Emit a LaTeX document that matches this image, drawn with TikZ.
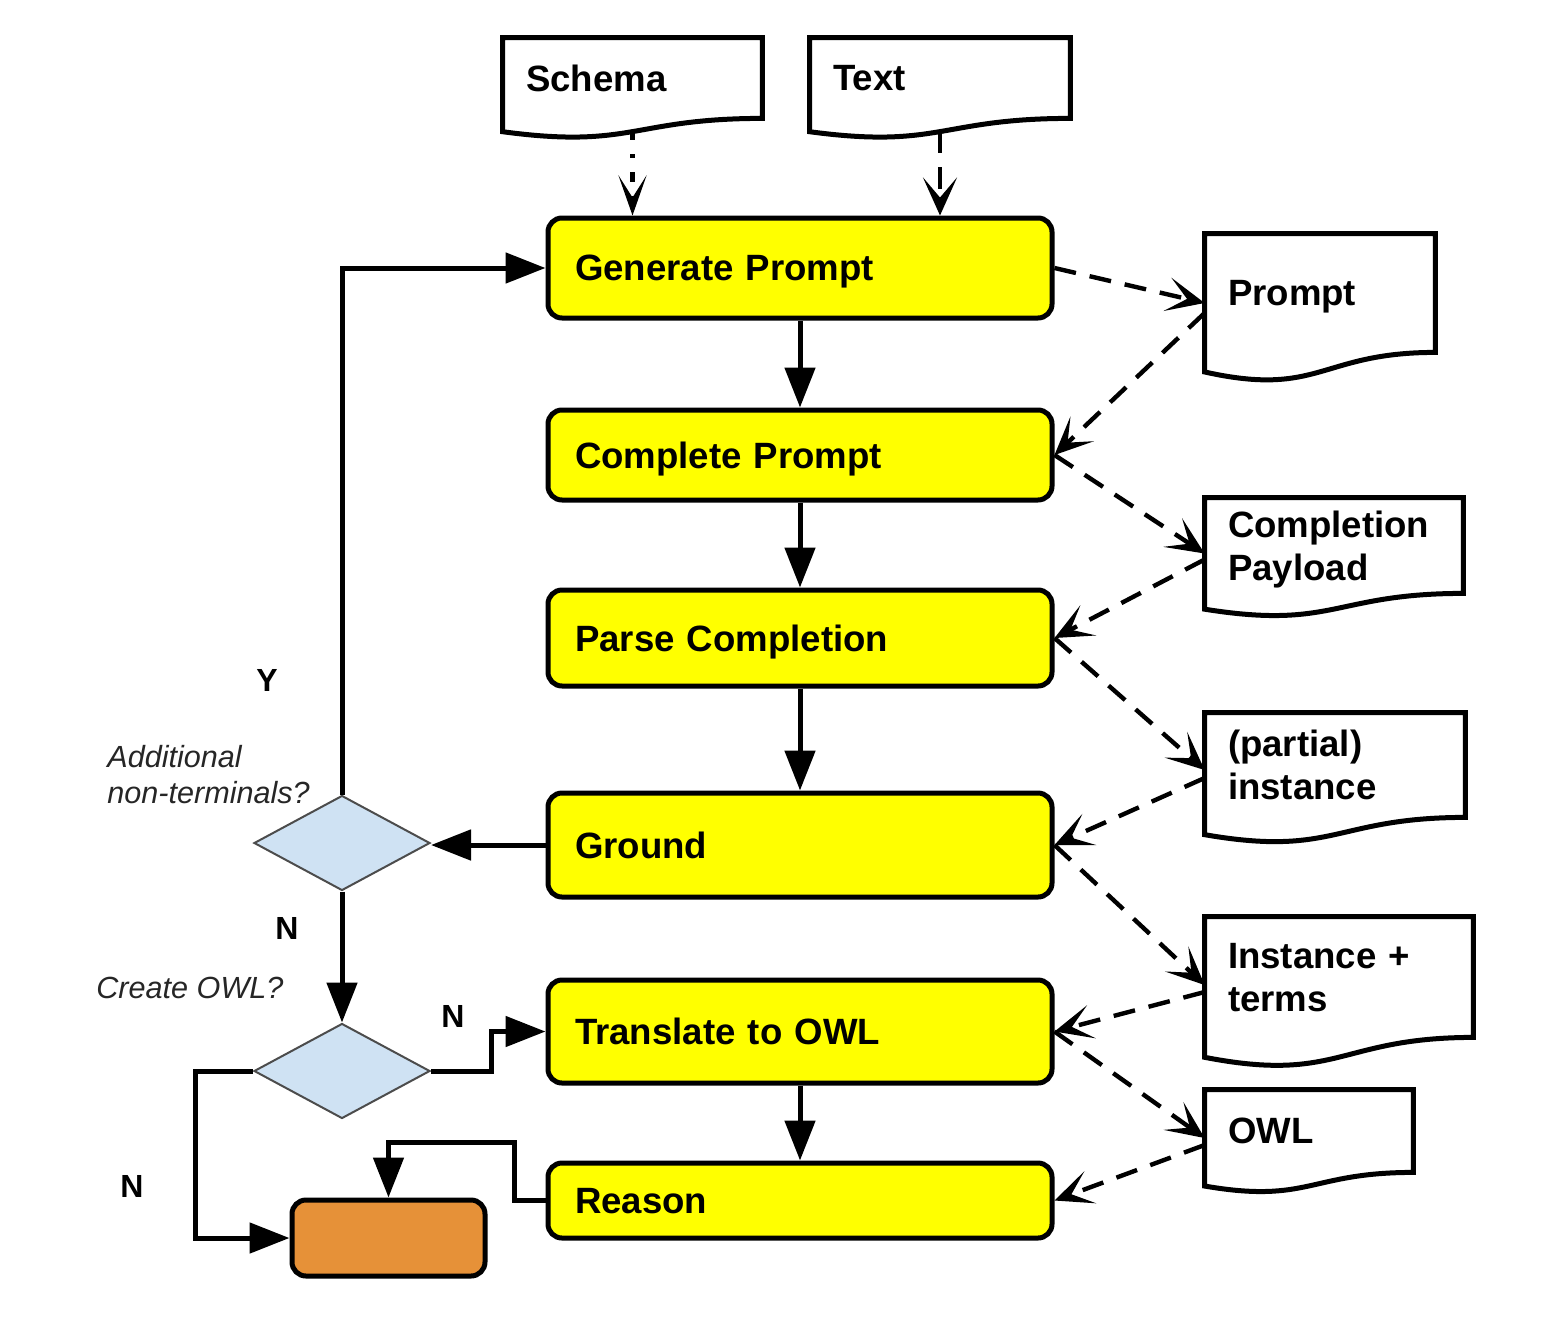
\documentclass[tikz,border=0pt]{standalone}
\usepackage{fontspec}
\setmainfont{Liberation Sans}
\usetikzlibrary{arrows.meta,calc,shapes.geometric}
\definecolor{boxyellow}{HTML}{FFFF00}
\definecolor{diafill}{HTML}{CFE2F3}
\definecolor{endorange}{HTML}{E69138}
\newcommand\docoutline[1]{%
  \draw[docline] let \p1=(#1.north west), \p2=(#1.south east) in
    (\x1,\y1) -- (\x2,\y1) -- (\x2,\y2)
    .. controls ({0.5*(\x1+\x2)},\y2) and ({0.5*(\x1+\x2)},{\y1+1.381*(\y2-\y1)}) ..
    (\x1,{\y1+1.1646*(\y2-\y1)}) -- cycle;}
\begin{document}
\begin{tikzpicture}[x=0.5pt,y=-0.5pt,
  bigfont/.style={font=\fontsize{18.3}{21.5}\selectfont\bfseries},
  oneline/.style={text depth=0pt},
  twolines/.style={text depth=21.5pt},
  procbox/.style={draw=black, line width=2.5pt, fill=boxyellow, rounded corners=7pt,
    text width=225pt, inner xsep=13.5pt, inner ysep=0pt, align=left, bigfont, oneline},
  docnode/.style={draw=none, inner xsep=11.5pt, inner ysep=0pt, align=left, bigfont},
  docline/.style={draw=black, line width=2.5pt, line join=miter},
  decision/.style={diamond, draw=black!70, line width=1pt, fill=diafill, inner sep=0pt,
    minimum width=88pt, minimum height=47.5pt},
  endbox/.style={draw=black, line width=2.5pt, fill=endorange, rounded corners=7pt,
    minimum width=96.5pt, minimum height=38pt},
  flow/.style={line width=2.5pt, -{Triangle[length=20pt,width=15pt]}},
  data/.style={line width=2.2pt, dash pattern=on 11pt off 7pt,
    -{Stealth[length=19pt,width=17pt,inset=10pt]}},
  dotdata/.style={line width=2.2pt, dash pattern=on 5pt off 7pt on 2pt off 7pt,
    -{Stealth[length=20pt,width=14pt,inset=11pt]}},
  yn/.style={font=\fontsize{16}{19}\selectfont\bfseries},
  question/.style={font=\fontsize{15.3}{18}\selectfont\itshape, text=black!85, align=left, inner sep=0pt}
]
\useasboundingbox (0,0) rectangle (1541,1328);

% process boxes
\node[procbox, minimum height=50pt]   (gen)    at (800,268)    {Generate Prompt};
\node[procbox, minimum height=45pt]   (comp)   at (800,455)    {Complete Prompt};
\node[procbox, minimum height=48pt]   (parse)  at (800,638)    {Parse Completion};
\node[procbox, minimum height=52pt]   (ground) at (800,845)    {Ground};
\node[procbox, minimum height=51.5pt] (owlt)   at (800,1031.5) {Translate to OWL};
\node[procbox, minimum height=37.5pt] (reason) at (800,1200.5) {Reason};
\node[endbox] (final) at (388.5,1238) {};

% decisions
\node[decision] (d1) at (342,843) {};
\node[decision] (d2) at (342,1071) {};

% documents
\node[docnode, oneline, minimum width=129.5pt, text width=106.5pt, minimum height=40pt] (schema) at (632.5,78) {Schema};
\node[docnode, oneline, minimum width=130pt, text width=107pt, minimum height=40pt] (text) at (940,78) {Text};
\node[docnode, oneline, minimum width=115pt, text width=92pt, minimum height=59pt] (prompt) at (1320,293) {Prompt};
\node[docnode, twolines, minimum width=129pt, text width=106pt, minimum height=47.5pt] (payload) at (1334,545.5) {Completion\\Payload};
\node[docnode, twolines, minimum width=130pt, text width=107pt, minimum height=52pt] (partial) at (1335,765) {(partial)\\instance};
\node[docnode, twolines, minimum width=134pt, text width=111pt, minimum height=60pt] (terms) at (1339,977) {Instance +\\terms};
\node[docnode, oneline, minimum width=104pt, text width=81pt, minimum height=41pt] (owl) at (1309,1131) {OWL};
\docoutline{schema}
\docoutline{text}
\docoutline{prompt}
\docoutline{payload}
\docoutline{partial}
\docoutline{terms}
\docoutline{owl}

% labels
\node[yn] (ly)  at (267,680)  {Y};
\node[yn] (ln1) at (287,928)  {N};
\node[yn] (ln2) at (453,1016) {N};
\node[yn] (ln3) at (132,1186) {N};
\node[question, anchor=west] (qadd) at (107,775) {Additional\\non-terminals?};
\node[question, anchor=west] (qowl) at (96,988) {Create OWL?};

% solid flow
\draw[flow] (gen.south) -- (comp.north);
\draw[flow] (comp.south) -- (parse.north);
\draw[flow] (parse.south) -- (ground.north);
\draw[flow] (ground.west) -- (ground.west -| d1.east);
\draw[flow] (d1.north) |- (gen.west);
\draw[flow] (d1.south) -- (d2.north);
\draw[flow] (d2.east) -- ++(60,0) |- (owlt.west);
\draw[flow] (d2.west) -- ++(-58,0) |- (final.west);
\draw[flow] (owlt.south) -- (reason.north);
\draw[flow] (reason.west) -- ++(-31,0) -- ++(0,-58) -| (final.north);

% data flow
\draw[dotdata] ([yshift=-6pt]schema.south) -- (schema.south |- gen.north);
\draw[data] ([yshift=-6.5pt]text.south) -- (text.south |- gen.north);
\draw[data] (gen.east) -- ([yshift=-5pt]prompt.west);
\draw[data] ([yshift=-10pt]prompt.west) -- (comp.east);
\draw[data] (comp.east) -- ([yshift=-4pt]payload.west);
\draw[data] ([yshift=-7pt]payload.west) -- (parse.east);
\draw[data] (parse.east) -- ([yshift=-2.5pt]partial.west);
\draw[data] ([yshift=-6.5pt]partial.west) -- (ground.east);
\draw[data] (ground.east) -- ([yshift=-4pt]terms.west);
\draw[data] ([yshift=-7.5pt]terms.west) -- (owlt.east);
\draw[data] (owlt.east) -- ([yshift=-3.5pt]owl.west);
\draw[data] ([yshift=-7pt]owl.west) -- (reason.east);
\end{tikzpicture}
\end{document}
